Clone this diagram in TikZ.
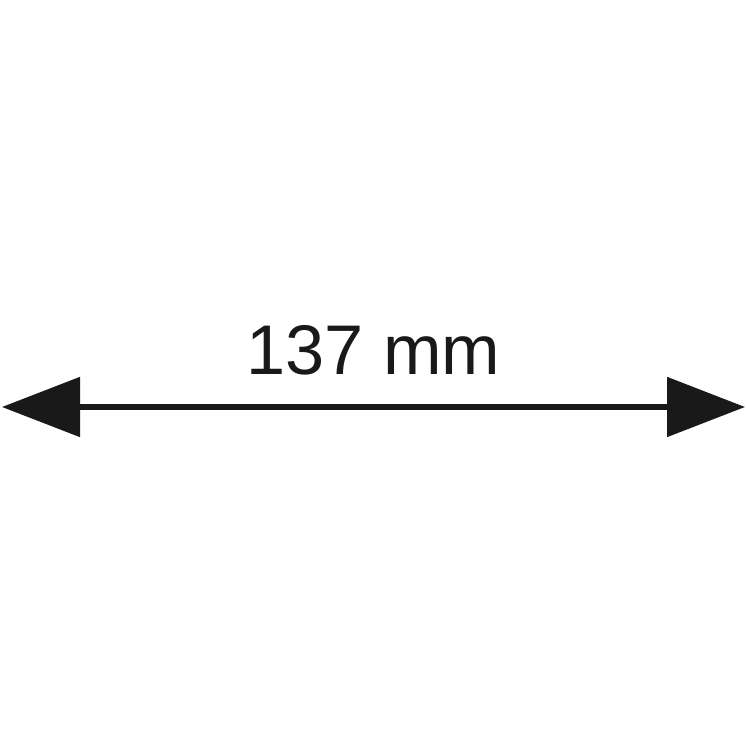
\documentclass[tikz,border=0pt]{standalone}
\usepackage{fontspec}
\setmainfont{Liberation Sans}
\usetikzlibrary{arrows.meta}

\begin{document}
\begin{tikzpicture}
  \useasboundingbox (0,0) rectangle (7.47,7.47);
  \tikzset{
    dimline/.style={draw=black!90,line width=1.45pt,
      {Triangle[length=0.78cm,width=0.59cm]}-{Triangle[length=0.78cm,width=0.59cm]}},
    dimlabel/.style={font=\fontsize{20}{24}\selectfont,text=black!90,inner sep=0pt,anchor=base},
  }
  \coordinate (dimL) at (0.02,3.40);
  \coordinate (dimR) at (7.45,3.40);
  \node[dimlabel] (dimtext) at (3.735,3.72) {137 mm};
  \path[dimline] (dimL) -- (dimR);
\end{tikzpicture}
\end{document}
